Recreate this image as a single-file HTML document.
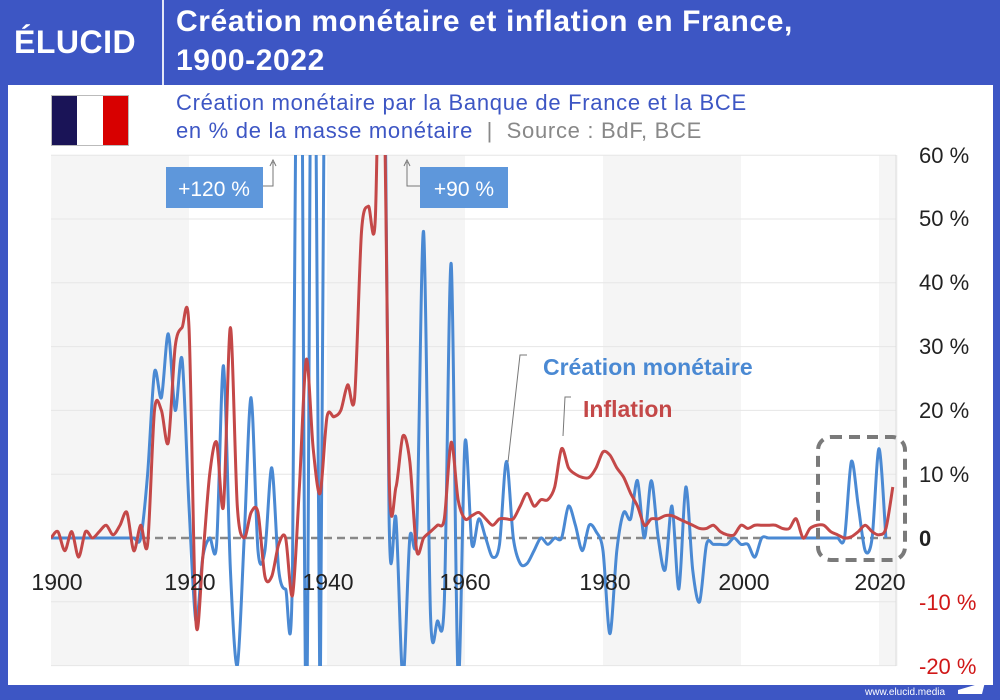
<!DOCTYPE html>
<html><head><meta charset="utf-8">
<style>
html,body{margin:0;padding:0;}
body{width:1000px;height:700px;overflow:hidden;background:#3d56c4;font-family:"Liberation Sans",sans-serif;position:relative;}
#inner{position:absolute;left:8px;top:85px;width:985px;height:600px;background:#fff;}
.t{position:absolute;white-space:nowrap;}
</style></head><body>
<div id="inner"></div>
<div class="t" style="left:14px;top:24px;color:#fff;font-weight:bold;font-size:32px;letter-spacing:0.5px;">ÉLUCID</div>
<div style="position:absolute;left:162px;top:0;width:2px;height:85px;background:#fff;opacity:.85"></div>
<div class="t" style="left:176px;top:2px;color:#fff;font-weight:bold;font-size:30px;letter-spacing:0.6px;line-height:39px;">Création monétaire et inflation en France,<br>1900-2022</div>
<div style="position:absolute;left:51px;top:95px;width:78px;height:51px;border:1px solid #bbb;box-sizing:border-box;display:flex;">
<div style="flex:1;background:#1a1457"></div><div style="flex:1;background:#fff"></div><div style="flex:1;background:#d80000"></div></div>
<div class="t" style="left:176px;top:89px;color:#3d56c4;font-size:22px;letter-spacing:0.7px;line-height:28px;">Création monétaire par la Banque de France et la BCE<br>en % de la masse monétaire <span style="color:#888">&nbsp;|&nbsp; Source : BdF, BCE</span></div>
<svg width="1000" height="700" style="position:absolute;left:0;top:0" xmlns="http://www.w3.org/2000/svg">
<defs><clipPath id="c"><rect x="51" y="155" width="845" height="511"/></clipPath></defs>
<g id="bands"></g>
<g id="grid"></g>
<line x1="896" y1="155" x2="896" y2="666" stroke="#ddd" stroke-width="1"/>
<line x1="51" y1="538" x2="896" y2="538" stroke="#888" stroke-width="2.5" stroke-dasharray="8 5"/>
<g clip-path="url(#c)">
<path id="blue" fill="none" stroke="#4a89d3" stroke-width="3" stroke-linejoin="round"/>
<path id="red" fill="none" stroke="#c44848" stroke-width="3" stroke-linejoin="round"/>
</g>
<rect x="818" y="437" width="87" height="123" rx="13" fill="none" stroke="#7a7a7a" stroke-width="4" stroke-dasharray="11 7"/>
<rect x="166" y="167" width="97" height="41" fill="#5e97db"/>
<text x="214" y="196" fill="#fff" font-size="21" text-anchor="middle" font-family="Liberation Sans">+120 %</text>
<polyline points="263,186 273,186 273,162" fill="none" stroke="#777" stroke-width="1"/>
<polyline points="270,166 273,160 276,166" fill="none" stroke="#777" stroke-width="1"/>
<rect x="420" y="167" width="88" height="41" fill="#5e97db"/>
<text x="464" y="196" fill="#fff" font-size="21" text-anchor="middle" font-family="Liberation Sans">+90 %</text>
<polyline points="420,186 407,186 407,162" fill="none" stroke="#777" stroke-width="1"/>
<polyline points="404,166 407,160 410,166" fill="none" stroke="#777" stroke-width="1"/>
<polyline points="527,355 520,355 508,462" fill="none" stroke="#777" stroke-width="1"/>
<polyline points="571,397 565,397 563,436" fill="none" stroke="#777" stroke-width="1"/>
<text x="543" y="375" fill="#4a89d3" font-size="23" font-weight="bold" font-family="Liberation Sans">Création monétaire</text>
<text x="583" y="417" fill="#c44848" font-size="23" font-weight="bold" font-family="Liberation Sans">Inflation</text>
<g font-family="Liberation Sans" font-size="23" fill="#222" text-anchor="middle">
<text x="57" y="590">1900</text><text x="190" y="590">1920</text><text x="328" y="590">1940</text>
<text x="465" y="590">1960</text><text x="605" y="590">1980</text><text x="744" y="590">2000</text><text x="880" y="590">2020</text>
</g>
<g font-family="Liberation Sans" font-size="22" fill="#222">
<text x="919" y="163">60 %</text><text x="919" y="226">50 %</text><text x="919" y="290">40 %</text>
<text x="919" y="354">30 %</text><text x="919" y="418">20 %</text><text x="919" y="482">10 %</text>
<text x="919" y="546" font-weight="bold">0</text>
<text x="919" y="610" fill="#d01818">-10 %</text><text x="919" y="674" fill="#d01818">-20 %</text>
</g>
<text x="865" y="695" fill="#fff" font-size="10" font-family="Liberation Sans">www.elucid.media</text>
<polygon points="958,690 985,682 982,694 958,694" fill="#fff"/>
</svg>
<script>
var X=function(y){return 51+(y-1900)*6.9;},Y=function(v){return 538-v*6.38;};
var ns="http://www.w3.org/2000/svg";
var b=document.getElementById('bands');
[[1900,1920],[1940,1960],[1980,2000],[2020,2022.7]].forEach(function(r){var e=document.createElementNS(ns,'rect');e.setAttribute('x',X(r[0]));e.setAttribute('y',155);e.setAttribute('width',X(r[1])-X(r[0]));e.setAttribute('height',511);e.setAttribute('fill','#f5f5f5');b.appendChild(e);});
var g=document.getElementById('grid');
[60,50,40,30,20,10,-10,-20].forEach(function(v){var e=document.createElementNS(ns,'line');e.setAttribute('x1',51);e.setAttribute('x2',896);e.setAttribute('y1',Y(v));e.setAttribute('y2',Y(v));e.setAttribute('stroke','#e6e6e6');g.appendChild(e);});
var blue=[0,0,0,0,0,0,0,0,0,0,0,0,0,0,10,26,22,32,20,28,5,-13,-3,0,-1,27,-5,-20,0,22,-2,-2,11,-5,-8,-5,130,-30,130,-30,150,150,150,150,150,150,150,150,120,3,3,-22,0,1,48,-12,-13,-10,43,-22,15,-1,3,0,-3,-1,12,0,-4,-4,-2,0,-1,0,0,5,2,-2,2,1,-2,-15,-2,4,3,9,0,9,0,-5,5,-8,8,-5,-10,-1,-1,-1,-1,0,-1,-1,-3,0,0,0,0,0,0,0,0,0,0,0,0,0,12,5,-2,0,14,0];
var red=[0,1,-2,1,-3,1,0,1,2,0.5,2,4,-2,2,-1,20,20,15,30,33,33,-13,-3,10,15,5,33,5,0,4,4,-6,-6,-1,0,-9,8,28,14,7,19,19,20,24,22,48,52,50,95,10,8,16,12,-2,0,1,2,3,15,6,3,3.5,4,3,2,3,3,3,5,7,5,6,6,8,14,11,10,9.5,9.5,11,13.5,13,11,9.5,7,5,2,3,3,3.5,3.5,3,2.5,2,1.5,1.5,2,1,0.5,0.5,2,1.5,2,2,2,2,1.5,1.5,3,0,1.5,2,2,1,0.5,0,0.2,1,2,1,0.5,1.5,8];
function path(d){var p=d.map(function(v,i){return [X(1900+i),Y(v)];});var s='M'+p[0][0]+','+p[0][1];
for(var i=0;i<p.length-1;i++){var p0=p[i-1]||p[i],p1=p[i],p2=p[i+1],p3=p[i+2]||p2;var t=0.15;
s+=' C'+(p1[0]+(p2[0]-p0[0])*t)+','+(p1[1]+(p2[1]-p0[1])*t)+' '+(p2[0]-(p3[0]-p1[0])*t)+','+(p2[1]-(p3[1]-p1[1])*t)+' '+p2[0]+','+p2[1];}
return s;}
document.getElementById('blue').setAttribute('d',path(blue));
document.getElementById('red').setAttribute('d',path(red));
</script>
</body></html>
